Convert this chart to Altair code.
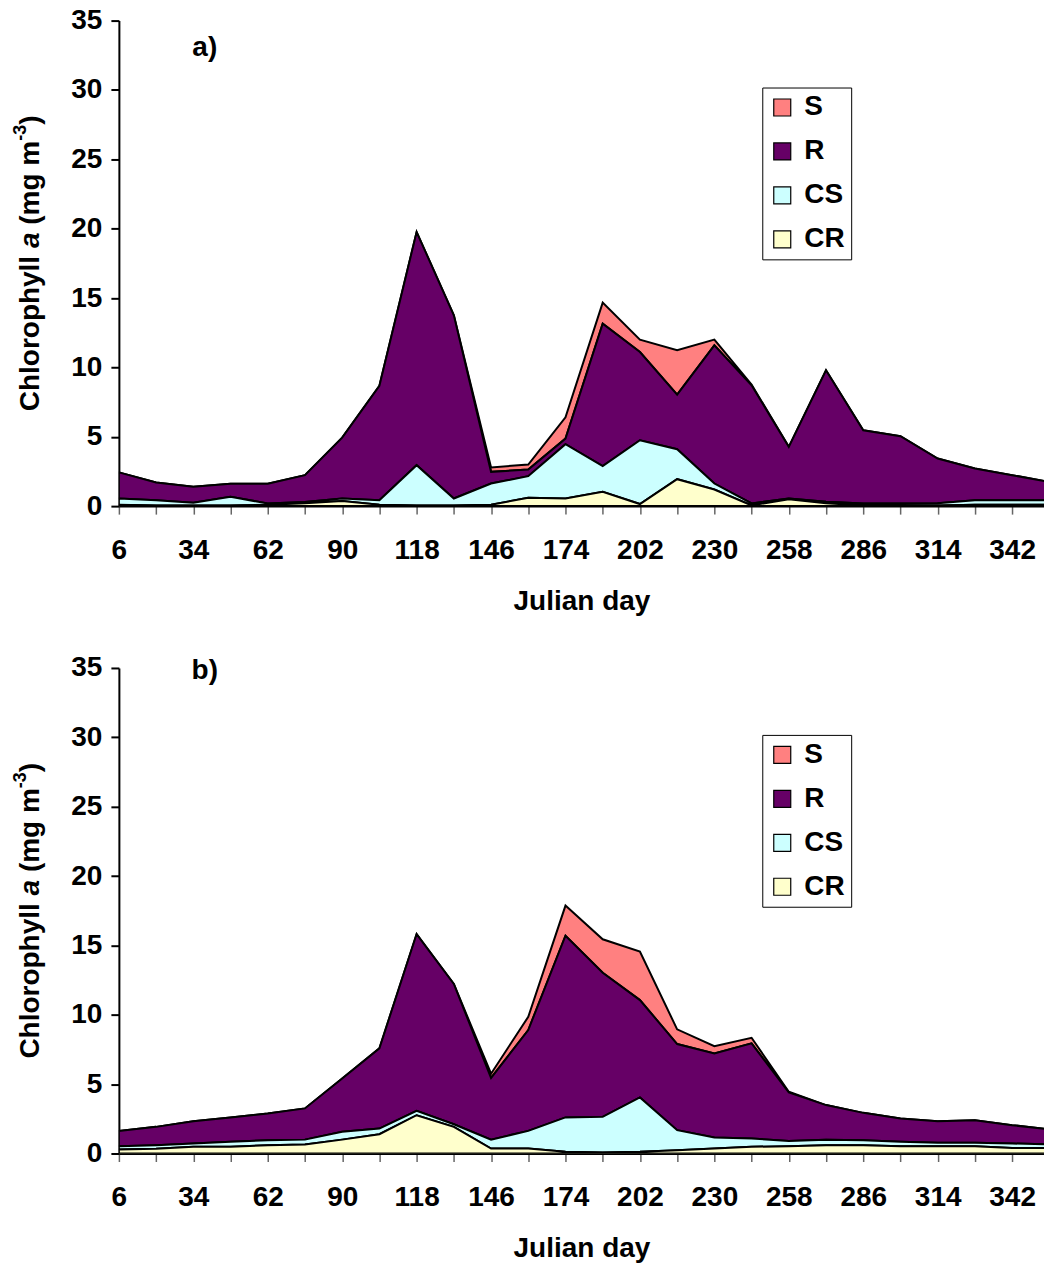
import altair as alt
import pandas as pd

# ---------------- data ----------------
days = [6, 20, 34, 48, 62, 76, 90, 104, 118, 132, 146, 160, 174,
        188, 202, 216, 230, 244, 258, 272, 286, 300, 314, 328, 342, 356]
x_tick_days = [6, 20, 34, 48, 62, 76, 90, 104, 118, 132, 146, 160, 174,
               188, 202, 216, 230, 244, 258, 272, 286, 300, 314, 328, 342]
y_ticks = [0, 5, 10, 15, 20, 25, 30, 35]

# panel a)
a_CR = [0.10, 0.05, 0.05, 0.05, 0.10, 0.20, 0.36, 0.10, 0.05, 0.05, 0.10, 0.60, 0.55,
        1.03, 0.15, 1.94, 1.20, 0.05, 0.50, 0.20, 0.05, 0.05, 0.05, 0.10, 0.10, 0.10]
a_CS = [0.45, 0.38, 0.19, 0.62, 0.09, 0.09, 0.19, 0.33, 2.90, 0.50, 1.53, 1.56, 3.91,
        1.85, 4.60, 2.16, 0.43, 0.14, 0.05, 0.11, 0.14, 0.14, 0.15, 0.33, 0.33, 0.33]
a_R = [1.88, 1.27, 1.15, 0.94, 1.42, 1.94, 4.39, 8.24, 16.81, 13.20, 0.84, 0.48, 0.41,
       10.27, 6.36, 3.94, 9.96, 8.52, 3.72, 9.48, 5.28, 4.85, 3.23, 2.28, 1.80, 1.32]
a_S = [0, 0, 0, 0, 0, 0, 0, 0, 0, 0, 0.32, 0.36, 1.53,
       1.52, 0.89, 3.19, 0.41, 0.05, 0, 0, 0, 0, 0, 0, 0, 0]

# panel b)
b_CR = [0.29, 0.34, 0.48, 0.48, 0.60, 0.65, 1.00, 1.39, 2.76, 1.92, 0.36, 0.36, 0.12,
        0.07, 0.12, 0.24, 0.36, 0.48, 0.53, 0.60, 0.60, 0.53, 0.53, 0.53, 0.40, 0.40]
b_CS = [0.24, 0.26, 0.24, 0.36, 0.36, 0.35, 0.56, 0.41, 0.31, 0.19, 0.64, 1.27, 2.48,
        2.57, 3.92, 1.44, 0.79, 0.60, 0.38, 0.40, 0.36, 0.31, 0.24, 0.24, 0.32, 0.25]
b_R = [1.10, 1.32, 1.61, 1.76, 1.93, 2.25, 3.85, 5.78, 12.75, 10.11, 4.45, 7.27, 13.10,
       10.39, 7.02, 6.21, 6.06, 6.86, 3.49, 2.49, 1.97, 1.68, 1.56, 1.63, 1.32, 1.10]
b_S = [0, 0, 0, 0, 0, 0, 0, 0, 0, 0, 0.30, 0.96, 2.17,
       2.41, 3.49, 1.06, 0.53, 0.40, 0.05, 0, 0, 0, 0, 0, 0, 0]

components = ["S", "R", "CS", "CR"]
colors = ["#FF8080", "#660066", "#CCFFFF", "#FFFFCC"]
stack_rank = {"CR": 0, "CS": 1, "R": 2, "S": 3}
panel_tags = ["a)", "b)"]
x_title = "Julian day"

# ---------------- styling ----------------
FONT = "Liberation Sans"
FS = 28
W, H = 926, 486


def y_title_layers():
    # pieces of "Chlorophyll a (mg m-3)" drawn rotated, reading bottom to top
    em = FS / 1000.0
    pieces = [
        ("Chlorophyll", FS, "normal", 0, 5556 * em),
        (None, FS, "normal", 0, 278 * em),
        ("a", FS, "italic", 0, 556 * em),
        (None, FS, "normal", 0, 278 * em),
        ("(mg m", FS, "normal", 0, 3000 * em),
        ("-3", 18, "normal", -10, 889 * 18 / 1000.0),
        (")", FS, "normal", 0, 333 * em),
    ]
    total = sum(p[4] for p in pieces)
    y = H / 2 + total / 2
    x0 = -88
    layers = []
    for text, size, style, dx, width in pieces:
        if text is not None:
            layers.append(
                alt.Chart(pd.DataFrame({"t": [text]}))
                .mark_text(font=FONT, fontSize=size, fontWeight="bold", fontStyle=style,
                           angle=270, align="left", baseline="middle", color="black")
                .encode(text="t:N", x=alt.value(x0 + dx), y=alt.value(y))
            )
        y -= width
    return layers


def make_panel(CR, CS, R, S, tag, tag_y):
    series = {"CR": CR, "CS": CS, "R": R, "S": S}
    rows = []
    for comp in components:
        for d, v in zip(days, series[comp]):
            rows.append({"day": d, "comp": comp, "value": v, "rank": stack_rank[comp]})
    df = pd.DataFrame(rows)

    area = alt.Chart(df).mark_area(
        stroke="black", strokeWidth=2, clip=True, interpolate="linear"
    ).encode(
        x=alt.X("day:Q",
                scale=alt.Scale(domain=[6, 354], nice=False, zero=False),
                axis=alt.Axis(values=x_tick_days,
                              labelExpr="(datum.value - 6) % 28 == 0 ? datum.label : ''",
                              title=x_title, labelOverlap=False, labelFlush=False,
                              grid=False, tickSize=8, tickColor="#666666", tickWidth=1.5,
                              domainColor="black", domainWidth=2,
                              labelPadding=22, titlePadding=23)),
        y=alt.Y("value:Q", stack="zero",
                scale=alt.Scale(domain=[0, 35], nice=False),
                axis=alt.Axis(values=y_ticks, title=None, grid=False, tickSize=8,
                              tickColor="black", tickWidth=2, domainColor="black",
                              domainWidth=2, labelPadding=9)),
        color=alt.Color("comp:N",
                        scale=alt.Scale(domain=components, range=colors),
                        legend=alt.Legend(title=None, orient="none", legendX=644, legendY=67,
                                          symbolType="square", symbolSize=289,
                                          symbolStrokeColor="black", symbolStrokeWidth=1.2,
                                          labelFont=FONT, labelFontSize=FS,
                                          labelFontWeight="bold", labelColor="black",
                                          labelOffset=8, rowPadding=16, padding=6,
                                          fillColor="white", strokeColor="black")),
        order=alt.Order("rank:Q", sort="ascending"),
    )

    label = alt.Chart(pd.DataFrame({"t": [tag]})).mark_text(
        font=FONT, fontSize=FS, fontWeight="bold", align="center", baseline="middle",
        color="black"
    ).encode(text="t:N", x=alt.value(86), y=alt.value(tag_y))

    return alt.layer(area, label, *y_title_layers()).properties(width=W, height=H)


pa = make_panel(a_CR, a_CS, a_R, a_S, panel_tags[0], 27)
pb = make_panel(b_CR, b_CS, b_R, b_S, panel_tags[1], 3)

chart = alt.vconcat(pa, pb, spacing=162, bounds="flush").resolve_scale(
    color="independent"
).resolve_legend(color="independent").properties(
    padding={"left": 12, "top": 6, "right": 0, "bottom": 0},
    background="white",
).configure_view(stroke=None).configure_axis(
    labelFont=FONT, labelFontSize=FS, labelFontWeight="bold", labelColor="black",
    titleFont=FONT, titleFontSize=FS, titleFontWeight="bold", titleColor="black",
)

chart.save("out.html", embed_options={"renderer": "svg", "actions": False})
